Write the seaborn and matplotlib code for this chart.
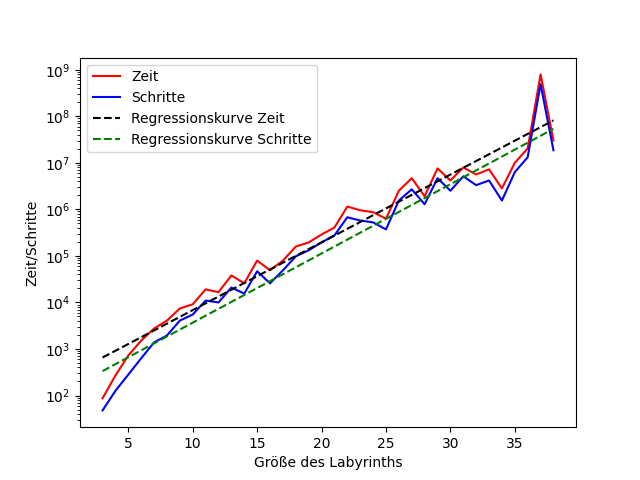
import numpy as np
import pandas as pd
import seaborn as sns
import matplotlib.pyplot as plt

groesse = list(range(3, 39))
zeit_log = [1.94, 2.43, 2.86, 3.18, 3.44, 3.61, 3.87, 3.96, 4.28, 4.22, 4.58, 4.41,
            4.9, 4.69, 4.9, 5.2, 5.29, 5.46, 5.61, 6.06, 5.98, 5.94, 5.8, 6.4,
            6.67, 6.28, 6.88, 6.62, 6.9, 6.75, 6.86, 6.45, 7.0, 7.31, 8.9, 7.48]
schritte_log = [1.68, 2.1, 2.45, 2.8, 3.14, 3.29, 3.61, 3.74, 4.04, 4.0, 4.32, 4.19,
                4.67, 4.41, 4.69, 4.99, 5.12, 5.29, 5.44, 5.83, 5.76, 5.72, 5.57, 6.19,
                6.43, 6.11, 6.67, 6.4, 6.71, 6.52, 6.62, 6.19, 6.8, 7.12, 8.69, 7.27]

df = pd.DataFrame({"n": groesse, "zeit": np.power(10, zeit_log),
                   "schritte": np.power(10, schritte_log)})

# exponential regression = linear fit in log space
x = np.array(groesse)
kz = np.polyfit(x, zeit_log, 1)
ks = np.polyfit(x, schritte_log, 1)
df["reg_zeit"] = 10 ** np.polyval(kz, x)
df["reg_schritte"] = 10 ** np.polyval(ks, x)

fig, ax = plt.subplots(figsize=(6.4, 4.8), dpi=100)
sns.lineplot(data=df, x="n", y="zeit", color="red", label="Zeit", ax=ax)
sns.lineplot(data=df, x="n", y="schritte", color="blue", label="Schritte", ax=ax)
sns.lineplot(data=df, x="n", y="reg_zeit", color="black", linestyle="--",
             label="Regressionskurve Zeit", ax=ax)
sns.lineplot(data=df, x="n", y="reg_schritte", color="green", linestyle="--",
             label="Regressionskurve Schritte", ax=ax)
ax.set_yscale("log")
ax.set_xlabel("Größe des Labyrinths")
ax.set_ylabel("Zeit/Schritte")
ax.legend(loc="upper left")
plt.savefig("out.png")
